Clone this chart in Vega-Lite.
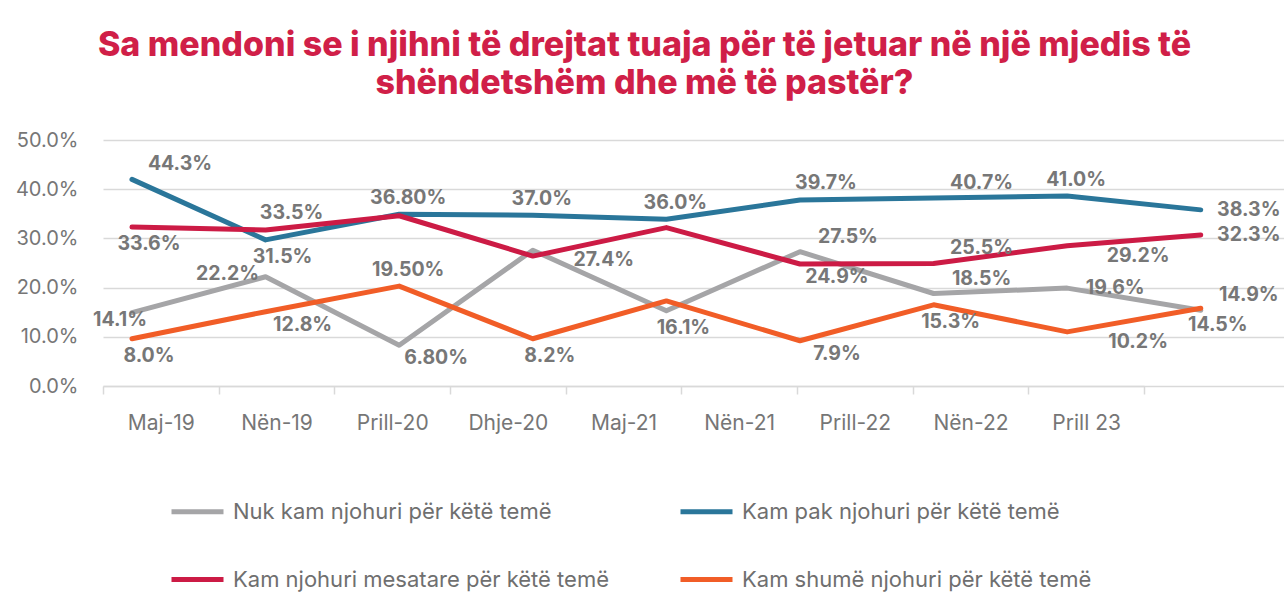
{
  "$schema": "https://vega.github.io/schema/vega-lite/v6.json",
  "autosize": {"type": "none"},
  "padding": {"left": 103, "top": 140, "right": 0, "bottom": 219},
  "width": 1181,
  "height": 246,
  "background": "white",
  "config": {
    "view": {"stroke": null},
    "font": "Inter",
    "text": {"fontSize": 19.5, "fontWeight": "bold", "fill": "#777777", "font": "Inter", "align": "center", "baseline": "middle"}
  },
  "title": {
    "text": ["Sa mendoni se i njihni të drejtat tuaja për të jetuar në një mjedis të", "shëndetshëm dhe më të pastër?"],
    "font": "Inter",
    "fontSize": 34,
    "fontWeight": 800,
    "color": "#d01f48",
    "anchor": "middle",
    "dx": -49,
    "offset": 29,
    "lineHeight": 38
  },
  "datasets": {
    "periods": [
      {"period": "Maj-19"}, {"period": "Nën-19"}, {"period": "Prill-20"}, {"period": "Dhje-20"}, {"period": "Maj-21"},
      {"period": "Nën-21"}, {"period": "Prill-22"}, {"period": "Nën-22"}, {"period": "Prill 23"}
    ],
    "series": [
      {"series": "Nuk kam njohuri për këtë temë", "i": 0, "value": 14.9, "label": "14.1%", "pos": "below-left"},
      {"series": "Nuk kam njohuri për këtë temë", "i": 1, "value": 22.2, "label": "22.2%", "pos": "left"},
      {"series": "Nuk kam njohuri për këtë temë", "i": 2, "value": 8.3, "label": "6.80%", "pos": "below-right"},
      {"series": "Nuk kam njohuri për këtë temë", "i": 3, "value": 27.6, "label": "27.4%", "pos": "below-far-right"},
      {"series": "Nuk kam njohuri për këtë temë", "i": 4, "value": 15.3, "label": "16.1%", "pos": "below"},
      {"series": "Nuk kam njohuri për këtë temë", "i": 5, "value": 27.3, "label": "27.5%", "pos": "above-right"},
      {"series": "Nuk kam njohuri për këtë temë", "i": 6, "value": 18.8, "label": "18.5%", "pos": "above-right"},
      {"series": "Nuk kam njohuri për këtë temë", "i": 7, "value": 19.9, "label": "19.6%", "pos": "right"},
      {"series": "Nuk kam njohuri për këtë temë", "i": 8, "value": 15.4, "label": "14.9%", "pos": "above-right"},
      {"series": "Kam pak njohuri për këtë temë", "i": 0, "value": 42.0, "label": "44.3%", "pos": "above-right"},
      {"series": "Kam pak njohuri për këtë temë", "i": 1, "value": 29.7, "label": "31.5%", "pos": "below"},
      {"series": "Kam pak njohuri për këtë temë", "i": 2, "value": 34.9, "label": "36.80%", "pos": "above"},
      {"series": "Kam pak njohuri për këtë temë", "i": 3, "value": 34.7, "label": "37.0%", "pos": "above"},
      {"series": "Kam pak njohuri për këtë temë", "i": 4, "value": 33.9, "label": "36.0%", "pos": "above"},
      {"series": "Kam pak njohuri për këtë temë", "i": 5, "value": 37.8, "label": "39.7%", "pos": "above-right-near"},
      {"series": "Kam pak njohuri për këtë temë", "i": 6, "value": 38.2, "label": "40.7%", "pos": "above-right"},
      {"series": "Kam pak njohuri për këtë temë", "i": 7, "value": 38.6, "label": "41.0%", "pos": "above"},
      {"series": "Kam pak njohuri për këtë temë", "i": 8, "value": 35.8, "label": "38.3%", "pos": "right"},
      {"series": "Kam njohuri mesatare për këtë temë", "i": 0, "value": 32.3, "label": "33.6%", "pos": "below"},
      {"series": "Kam njohuri mesatare për këtë temë", "i": 1, "value": 31.7, "label": "33.5%", "pos": "above-right-near"},
      {"series": "Kam njohuri mesatare për këtë temë", "i": 2, "value": 34.6, "label": null, "pos": "none"},
      {"series": "Kam njohuri mesatare për këtë temë", "i": 3, "value": 26.4, "label": null, "pos": "none"},
      {"series": "Kam njohuri mesatare për këtë temë", "i": 4, "value": 32.2, "label": null, "pos": "none"},
      {"series": "Kam njohuri mesatare për këtë temë", "i": 5, "value": 24.8, "label": "24.9%", "pos": "below-right"},
      {"series": "Kam njohuri mesatare për këtë temë", "i": 6, "value": 24.9, "label": "25.5%", "pos": "above-right"},
      {"series": "Kam njohuri mesatare për këtë temë", "i": 7, "value": 28.5, "label": "29.2%", "pos": "below-far-right"},
      {"series": "Kam njohuri mesatare për këtë temë", "i": 8, "value": 30.7, "label": "32.3%", "pos": "right"},
      {"series": "Kam shumë njohuri për këtë temë", "i": 0, "value": 9.6, "label": "8.0%", "pos": "below"},
      {"series": "Kam shumë njohuri për këtë temë", "i": 1, "value": 15.1, "label": "12.8%", "pos": "below-right"},
      {"series": "Kam shumë njohuri për këtë temë", "i": 2, "value": 20.3, "label": "19.50%", "pos": "above"},
      {"series": "Kam shumë njohuri për këtë temë", "i": 3, "value": 9.6, "label": "8.2%", "pos": "below"},
      {"series": "Kam shumë njohuri për këtë temë", "i": 4, "value": 17.3, "label": null, "pos": "none"},
      {"series": "Kam shumë njohuri për këtë temë", "i": 5, "value": 9.2, "label": "7.9%", "pos": "below-right"},
      {"series": "Kam shumë njohuri për këtë temë", "i": 6, "value": 16.5, "label": "15.3%", "pos": "below"},
      {"series": "Kam shumë njohuri për këtë temë", "i": 7, "value": 11.0, "label": "10.2%", "pos": "below-far-right"},
      {"series": "Kam shumë njohuri për këtë temë", "i": 8, "value": 15.8, "label": "14.5%", "pos": "below"}
    ]
  },
  "layer": [
    {
      "data": {"name": "periods"},
      "mark": {"type": "point", "opacity": 0},
      "encoding": {
        "x": {
          "field": "period", "type": "ordinal", "sort": null,
          "scale": {"type": "band", "range": [0, 1041], "paddingInner": 0, "paddingOuter": 0},
          "axis": {
            "title": null, "orient": "bottom", "labelAngle": 0,
            "tickBand": "extent", "ticks": true, "tickSize": 8, "tickColor": "#d9d9d9", "tickWidth": 1.5,
            "domainColor": "#d9d9d9", "domainWidth": 1.5,
            "labelFont": "Inter", "labelFontSize": 21, "labelColor": "#767676", "labelPadding": 18, "grid": false
          }
        }
      }
    },
    {
      "data": {"name": "series"},
      "encoding": {
        "x": {"field": "i", "type": "quantitative", "scale": {"domain": [-0.217, 8.623], "nice": false, "zero": false}, "axis": null},
        "y": {
          "field": "value", "type": "quantitative", "scale": {"domain": [0, 50], "nice": false},
          "axis": {
            "title": null, "values": [0, 10, 20, 30, 40, 50], "labelExpr": "format(datum.value, '.1f') + '%'",
            "domain": false, "ticks": false, "grid": true, "gridColor": "#d9d9d9", "gridWidth": 1.5,
            "labelFont": "Inter", "labelFontSize": 20, "labelColor": "#767676", "labelPadding": 25
          }
        }
      },
      "layer": [
        {
          "mark": {"type": "line", "strokeWidth": 5, "strokeCap": "round", "strokeJoin": "round"},
          "encoding": {
            "color": {
              "field": "series", "type": "nominal",
              "scale": {
                "domain": ["Nuk kam njohuri për këtë temë", "Kam pak njohuri për këtë temë", "Kam njohuri mesatare për këtë temë", "Kam shumë njohuri për këtë temë"],
                "range": ["#a5a5a7", "#2a769a", "#cc1b45", "#f15d27"]
              },
              "legend": {
                "orient": "none", "legendX": 66, "legendY": 343, "columns": 2, "direction": "horizontal", "title": null,
                "symbolType": "stroke", "symbolSize": 2704, "symbolStrokeWidth": 5,
                "labelFont": "Inter", "labelFontSize": 22, "labelColor": "#6f6f6f", "labelOffset": 7, "labelLimit": 0,
                "rowPadding": 28, "columnPadding": 61
              }
            },
            "order": {"field": "i"}
          }
        },
        {"transform": [{"filter": "datum.pos === 'above'"}], "mark": {"type": "text", "dx": 9, "dy": -16}, "encoding": {"text": {"field": "label"}}},
        {"transform": [{"filter": "datum.pos === 'above-right'"}], "mark": {"type": "text", "dx": 48, "dy": -15}, "encoding": {"text": {"field": "label"}}},
        {"transform": [{"filter": "datum.pos === 'above-right-near'"}], "mark": {"type": "text", "dx": 26, "dy": -17}, "encoding": {"text": {"field": "label"}}},
        {"transform": [{"filter": "datum.pos === 'below'"}], "mark": {"type": "text", "dx": 17, "dy": 17}, "encoding": {"text": {"field": "label"}}},
        {"transform": [{"filter": "datum.pos === 'below-right'"}], "mark": {"type": "text", "dx": 37, "dy": 13}, "encoding": {"text": {"field": "label"}}},
        {"transform": [{"filter": "datum.pos === 'below-far-right'"}], "mark": {"type": "text", "dx": 71, "dy": 10}, "encoding": {"text": {"field": "label"}}},
        {"transform": [{"filter": "datum.pos === 'right'"}], "mark": {"type": "text", "dx": 48, "dy": 0}, "encoding": {"text": {"field": "label"}}},
        {"transform": [{"filter": "datum.pos === 'left'"}], "mark": {"type": "text", "dx": -38, "dy": -3}, "encoding": {"text": {"field": "label"}}},
        {"transform": [{"filter": "datum.pos === 'below-left'"}], "mark": {"type": "text", "dx": -12, "dy": 7}, "encoding": {"text": {"field": "label"}}}
      ]
    }
  ],
  "resolve": {"scale": {"x": "independent"}, "axis": {"x": "independent"}}
}
